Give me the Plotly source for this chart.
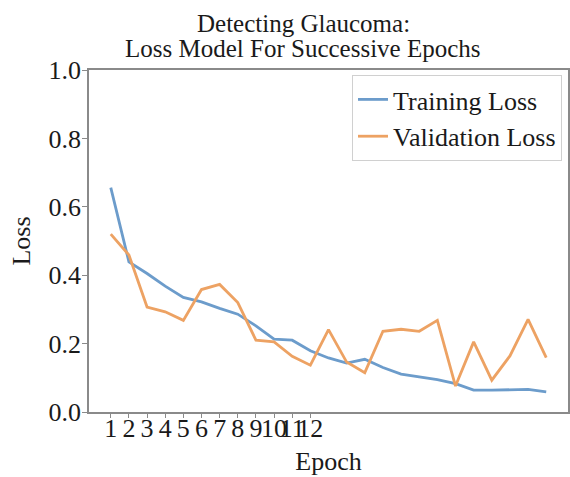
import plotly.graph_objects as go

epochs = list(range(1, 26))
training_loss = [0.656, 0.439, 0.405, 0.368, 0.335, 0.322, 0.303, 0.286, 0.252, 0.213,
                 0.210, 0.179, 0.158, 0.143, 0.154, 0.130, 0.111, 0.104, 0.095, 0.083,
                 0.064, 0.064, 0.066, 0.066, 0.059]
validation_loss = [0.520, 0.459, 0.307, 0.293, 0.268, 0.358, 0.373, 0.320, 0.210, 0.205,
                   0.163, 0.137, 0.241, 0.146, 0.115, 0.236, 0.242, 0.236, 0.268, 0.076,
                   0.205, 0.093, 0.164, 0.271, 0.159]
x_tick_vals = list(range(1, 13))
x_tick_text = [str(v) for v in x_tick_vals]
y_tick_vals = [0.0, 0.2, 0.4, 0.6, 0.8, 1.0]
title_lines = ["Detecting Glaucoma:", "Loss Model For Successive Epochs"]

FONT = "Liberation Serif, Times New Roman, serif"
TXT = "#1a1a1a"
W, H = 570, 477

fig = go.Figure()
fig.add_trace(go.Scatter(x=epochs, y=training_loss, mode="lines", name="Training Loss",
                         line=dict(color="#6c9ccb", width=2.8)))
fig.add_trace(go.Scatter(x=epochs, y=validation_loss, mode="lines", name="Validation Loss",
                         line=dict(color="#eda263", width=2.8)))

axis_common = dict(showline=True, linecolor="#8a8a8a", linewidth=1.5, mirror=True,
                   showgrid=False, zeroline=False, ticks="outside", tickcolor="#8a8a8a",
                   automargin=False,
                   tickfont=dict(family=FONT, size=26, color=TXT))

# title as two centred lines
for line, yc in zip(title_lines, [24, 49]):
    fig.add_annotation(text=line, xref="paper", yref="paper",
                       x=(303 - 88.5) / 479.5, y=1 + (70 - yc) / 341.7,
                       xanchor="center", yanchor="middle", showarrow=False,
                       font=dict(family=FONT, size=25, color=TXT))

fig.update_layout(
    width=W, height=H,
    margin=dict(l=88.5, r=2, t=70, b=65.3, pad=0),
    paper_bgcolor="white", plot_bgcolor="white",
    font=dict(family=FONT, color=TXT),
    showlegend=True,
    legend=dict(x=1 - 6/479.5, y=1 - 5/341.7, xanchor="right", yanchor="top",
                bgcolor="white", bordercolor="#d0d0d0", borderwidth=1,
                font=dict(family=FONT, size=26, color=TXT),
                tracegroupgap=0),
)
fig.update_xaxes(range=[-0.2, 26.2], tickmode="array", tickvals=x_tick_vals,
                 ticktext=x_tick_text, tickangle=0, ticklen=4, ticklabelstandoff=-12,
                 title=dict(text="Epoch", font=dict(family=FONT, size=26, color=TXT),
                            standoff=10),
                 **axis_common)
fig.update_yaxes(range=[0, 1], tickmode="array", tickvals=y_tick_vals, tickformat=".1f",
                 ticklen=5, ticklabelstandoff=-4,
                 title=dict(text="Loss", font=dict(family=FONT, size=26, color=TXT),
                            standoff=10),
                 **axis_common)

fig.write_html("out.html", config={"displayModeBar": False},
               post_script="document.body.style.margin='0';document.body.style.overflow='hidden';")
